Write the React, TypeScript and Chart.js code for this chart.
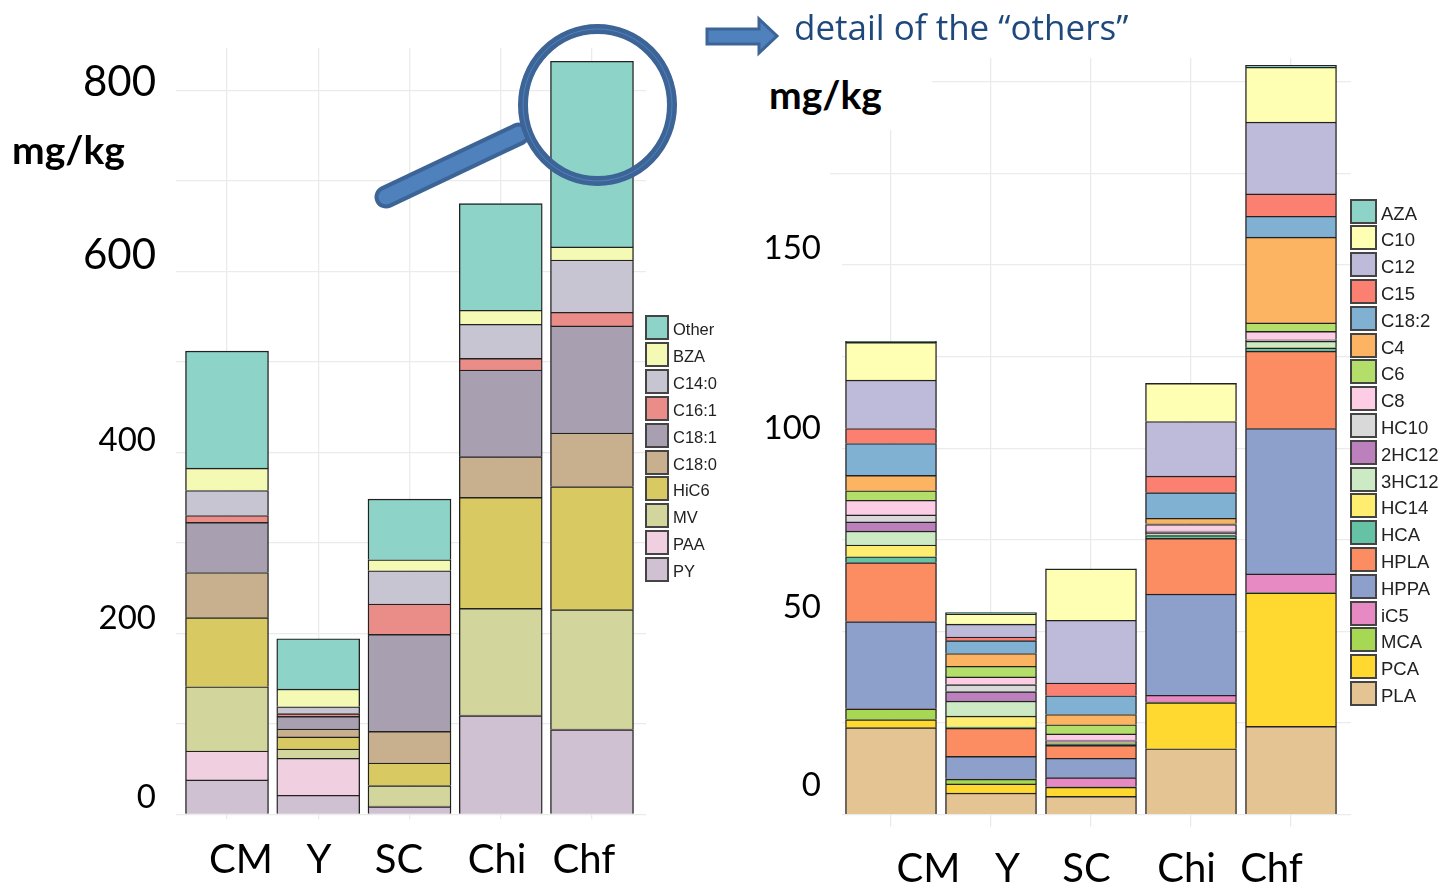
import React, { useEffect, useRef } from "react";
import { Chart, registerables } from "chart.js";

Chart.register(...registerables);

const categories = ["CM", "Y", "SC", "Chi", "Chf"];

// Left chart, bottom to top of the stack
const PY = [38, 21, 8.5, 109, 93.6];
const PAA = [32, 40.9, 0.6, 0.7, 0.6];
const MV = [71, 10.3, 22.6, 117.9, 132];
const HiC6 = [76.3, 13.3, 25, 122.7, 136];
const C18_0 = [50, 8.8, 35, 45, 59.3];
const C18_1 = [55.3, 14, 107.2, 95.8, 118.3];
const C16_1 = [7.7, 2.9, 33.5, 12.9, 15.1];
const C14_0 = [27.6, 7.7, 36.8, 37.6, 57.8];
const BZA = [24.7, 19.5, 12.2, 15.5, 14.4];
const Other = [129.4, 55.6, 67, 117.9, 205.3];

const leftNames = ["PY", "PAA", "MV", "HiC6", "C18:0", "C18:1", "C16:1", "C14:0", "BZA", "Other"];
const leftSeries = [PY, PAA, MV, HiC6, C18_0, C18_1, C16_1, C14_0, BZA, Other];
const leftColors = ["#CFC1D1", "#EFCFE0", "#D2D69C", "#D8C963", "#C8B08E", "#A8A0B0", "#EA8C88", "#C7C5D2", "#F4FAB4", "#8DD3C7"];

// Right chart, bottom to top of the stack
const PLA = [23.75, 5.9, 5, 18, 24.1];
const PCA = [2.2, 2.5, 2.5, 12.6, 36.4];
const MCA = [2.9, 1.3, 0.1, 0.1, 0.1];
const iC5 = [0.1, 0.1, 2.5, 1.9, 5.1];
const HPPA = [23.75, 6.1, 5.3, 27.6, 39.7];
const HPLA = [16.1, 7.7, 3.5, 15.2, 21.1];
const HCA = [1.6, 0.3, 0.35, 0.8, 0.9];
const HC14 = [3.2, 3, 0.3, 0.1, 0.1];
const HC12_3 = [3.8, 4.1, 0.3, 0.6, 1.7];
const HC12_2 = [2.5, 2.6, 0.3, 0.2, 0.1];
const HC10 = [1.9, 1.9, 0.2, 0.3, 0.3];
const C8 = [4, 2.1, 1.7, 1.8, 2.3];
const C6 = [2.6, 2.9, 2.5, 0.2, 2.3];
const C4 = [4.2, 3.5, 2.8, 1.5, 23.4];
const C18_2 = [8.7, 3.5, 5.1, 7, 5.7];
const C15 = [4.1, 1, 3.5, 4.5, 6.1];
const C12 = [13.2, 3.5, 17.1, 14.9, 19.6];
const C10 = [10.3, 2.8, 14, 10.4, 15];
const AZA = [0.3, 0.35, 0.05, 0.05, 0.5];

const rightNames = ["PLA", "PCA", "MCA", "iC5", "HPPA", "HPLA", "HCA", "HC14", "3HC12", "2HC12", "HC10", "C8", "C6", "C4", "C18:2", "C15", "C12", "C10", "AZA"];
const rightSeries = [PLA, PCA, MCA, iC5, HPPA, HPLA, HCA, HC14, HC12_3, HC12_2, HC10, C8, C6, C4, C18_2, C15, C12, C10, AZA];
const rightColors = ["#E5C494", "#FFD92F", "#A6D854", "#E78AC3", "#8DA0CB", "#FC8D62", "#66C2A5", "#FFED6F", "#CCEBC5", "#BC80BD", "#D9D9D9", "#FCCDE5", "#B3DE69", "#FDB462", "#80B1D3", "#FB8072", "#BEBADA", "#FFFFB3", "#8DD3C7"];

// Axis text: the labels sit beside the gridlines they name, as in the source slide
const leftYGrid = [0, 100, 200, 300, 400, 500, 600, 700, 800];
const leftYLabels = ["800", "600", "400", "200", "0"];
const leftYLabelAt = [808.5, 617.4, 413.8, 217, 19];
const leftXLabelAt = [0.153, 1.008, 1.885, 2.959, 3.912];
const rightYGrid = [0, 25, 50, 75, 100, 125, 150, 175, 200];
const rightYLabels = ["150", "100", "50", "0"];
const rightYLabelAt = [154.45, 105.45, 56.7, 8];
const rightXLabelAt = [0.375, 1.165, 1.955, 2.955, 3.805];
const gridX = [0, 1, 2, 3, 4];

const GRID = "#EBEBEB";
const FONT = "Lato";

type Spec = {
  names: string[];
  series: number[][];
  colors: string[];
  yMax: number;
  xMin: number;
  xMax: number;
  barPx: number;
  yGrid: number[];
  yLabels: string[];
  yLabelAt: number[];
  yFont: (i: number) => number;
  xLabelAt: number[];
  xFont: number;
  xPad: number;
  padding: { top: number; right: number };
  yMainW: number;
  yLabelW: number;
  xMainH: number;
  xLabelH: number;
  yTick: number;
  yTickOnly?: number;
};

function makeChart(canvas: HTMLCanvasElement, s: Spec) {
  return new Chart(canvas, {
    type: "bar",
    data: {
      datasets: s.series.map((vals, k) => ({
        label: s.names[k],
        data: vals.map((y, i) => ({ x: i, y })),
        backgroundColor: s.colors[k],
        borderColor: "#222222",
        borderWidth: 1.4,
        barThickness: s.barPx,
      })),
    },
    options: {
      animation: false,
      responsive: false,
      layout: { padding: { left: 0, bottom: 0, top: s.padding.top, right: s.padding.right } },
      plugins: { legend: { display: false }, title: { display: false }, tooltip: { enabled: false } },
      scales: {
        x: {
          type: "linear",
          stacked: true,
          offset: false,
          min: s.xMin,
          max: s.xMax,
          weight: 0,
          border: { display: false },
          grid: { offset: false, color: GRID, lineWidth: 1.3, tickLength: s.xMainH, drawTicks: true },
          ticks: { display: false },
          afterBuildTicks: (a: any) => { a.ticks = gridX.map((value) => ({ value })); },
          afterFit: (a: any) => { a.height = s.xMainH; },
        },
        xLabels: {
          type: "linear",
          position: "bottom",
          offset: false,
          min: s.xMin,
          max: s.xMax,
          weight: 1,
          border: { display: false },
          grid: { offset: false, display: false, drawTicks: false },
          ticks: {
            color: "#000",
            padding: s.xPad,
            autoSkip: false,
            maxRotation: 0,
            font: { family: FONT, size: s.xFont },
            callback: (_: any, i: number) => categories[i],
          },
          afterBuildTicks: (a: any) => { a.ticks = s.xLabelAt.map((value) => ({ value })); },
          afterFit: (a: any) => { a.height = s.xLabelH; },
        },
        y: {
          type: "linear",
          stacked: true,
          min: 0,
          max: s.yMax,
          weight: 0,
          border: { display: false },
          grid: {
            color: GRID,
            lineWidth: 1.3,
            drawTicks: s.yTick > 0,
            tickLength: s.yTick,
            tickColor: (c: any) => (c.tick && c.tick.value === s.yTickOnly ? GRID : "rgba(0,0,0,0)"),
          },
          ticks: { display: false },
          afterBuildTicks: (a: any) => { a.ticks = s.yGrid.map((value) => ({ value })); },
          afterFit: (a: any) => { a.width = s.yMainW; },
        },
        yLabels: {
          type: "linear",
          position: "left",
          min: 0,
          max: s.yMax,
          weight: 1,
          border: { display: false },
          grid: { display: false, drawTicks: false },
          ticks: {
            color: "#000",
            padding: 0,
            autoSkip: false,
            font: (c: any) => ({ family: FONT, size: s.yFont(c.index) }),
            callback: (_: any, i: number) => s.yLabels[i],
          },
          afterBuildTicks: (a: any) => { a.ticks = s.yLabelAt.map((value) => ({ value })); },
          afterFit: (a: any) => { a.width = s.yLabelW; },
        },
      },
    } as any,
  });
}

function Legend({ names, colors, left, top, boxW, boxH, step, textLeft, size }: any) {
  const rows = names.map((n: string, i: number) => ({ n, c: colors[i] })).reverse();
  return (
    <>
      {rows.map((r: any, i: number) => (
        <React.Fragment key={r.n}>
          <div
            style={{
              position: "absolute",
              left,
              top: top + i * step,
              width: boxW,
              height: boxH,
              boxSizing: "border-box",
              background: r.c,
              border: "2px solid #444444",
            }}
          />
          <div
            style={{
              position: "absolute",
              left: textLeft,
              top: top + 2 + i * step,
              height: boxH,
              lineHeight: boxH + "px",
              fontFamily: "Liberation Sans",
              fontSize: size,
              color: "#222",
              whiteSpace: "nowrap",
            }}
          >
            {r.n}
          </div>
        </React.Fragment>
      ))}
    </>
  );
}

const textStyle = (left: number, top: number, size: number, extra: any = {}) => ({
  position: "absolute" as const,
  left,
  top,
  fontFamily: FONT,
  fontSize: size,
  lineHeight: 1,
  whiteSpace: "nowrap" as const,
  ...extra,
});

export default function App() {
  const leftRef = useRef<HTMLCanvasElement>(null);
  const rightRef = useRef<HTMLCanvasElement>(null);

  useEffect(() => {
    const a = makeChart(leftRef.current!, {
      names: leftNames,
      series: leftSeries,
      colors: leftColors,
      yMax: 847,
      xMin: -0.559,
      xMax: 4.592,
      barPx: 83,
      yGrid: leftYGrid,
      yLabels: leftYLabels,
      yLabelAt: leftYLabelAt,
      yFont: (i) => (i < 2 ? 42 : 33),
      xLabelAt: leftXLabelAt,
      xFont: 40,
      xPad: 17,
      padding: { top: 48, right: 74 },
      yMainW: 20,
      yLabelW: 156,
      xMainH: 5,
      xLabelH: 65.7,
      yTick: 0,
    });
    const b = makeChart(rightRef.current!, {
      names: rightNames,
      series: rightSeries,
      colors: rightColors,
      yMax: 206.5,
      xMin: -0.49,
      xMax: 4.6,
      barPx: 91,
      yGrid: rightYGrid,
      yLabels: rightYLabels,
      yLabelAt: rightYLabelAt,
      yFont: () => 33,
      xLabelAt: rightXLabelAt,
      xFont: 40,
      xPad: 18,
      padding: { top: 58, right: 92 },
      yMainW: 21,
      yLabelW: 101,
      xMainH: 12,
      xLabelH: 58.3,
      yTick: 12,
      yTickOnly: 175,
    });
    return () => {
      a.destroy();
      b.destroy();
    };
  }, []);

  return (
    <div style={{ position: "absolute", left: 0, top: 0, width: 1443, height: 885, overflow: "hidden", background: "#fff" }}>
      <canvas ref={leftRef} width={720} height={885} style={{ position: "absolute", left: 0, top: 0, width: 720, height: 885 }} />
      <canvas ref={rightRef} width={723} height={885} style={{ position: "absolute", left: 720, top: 0, width: 723, height: 885 }} />

      <div style={{ position: "absolute", left: 750, top: 50, width: 182, height: 80, background: "#fff" }} />
      <div style={textStyle(12, 130, 39, { fontWeight: 700, color: "#000" })}>mg/kg</div>
      <div style={textStyle(769, 75, 39, { fontWeight: 700, color: "#000" })}>mg/kg</div>
      <div style={textStyle(794, 9, 35, { fontFamily: "Open Sans", color: "#1F497D" })}>detail of the “others”</div>

      <Legend names={leftNames} colors={leftColors} left={645} top={315} boxW={24} boxH={25} step={26.9} textLeft={673} size={16.5} />
      <Legend names={rightNames} colors={rightColors} left={1350} top={198.5} boxW={27} boxH={25} step={26.8} textLeft={1381} size={18.5} />

      <svg width={1443} height={885} style={{ position: "absolute", left: 0, top: 0, pointerEvents: "none" }}>
        <line x1={386} y1={197} x2={519} y2={134} stroke="#3C6496" strokeWidth={23} strokeLinecap="round" />
        <line x1={386} y1={197} x2={519} y2={134} stroke="#4F81BD" strokeWidth={15} strokeLinecap="round" />
        <ellipse cx={597.5} cy={105} rx={74.5} ry={76} fill="none" stroke="#3C6496" strokeWidth={10} />
        <ellipse cx={597.5} cy={105} rx={74.5} ry={76} fill="none" stroke="#4F81BD" strokeWidth={1} />
        <polygon points="707,29 759,29 759,19 777,36 759,53 759,44 707,44" fill="#4F81BD" stroke="#3C6496" strokeWidth={3} />
      </svg>
    </div>
  );
}
